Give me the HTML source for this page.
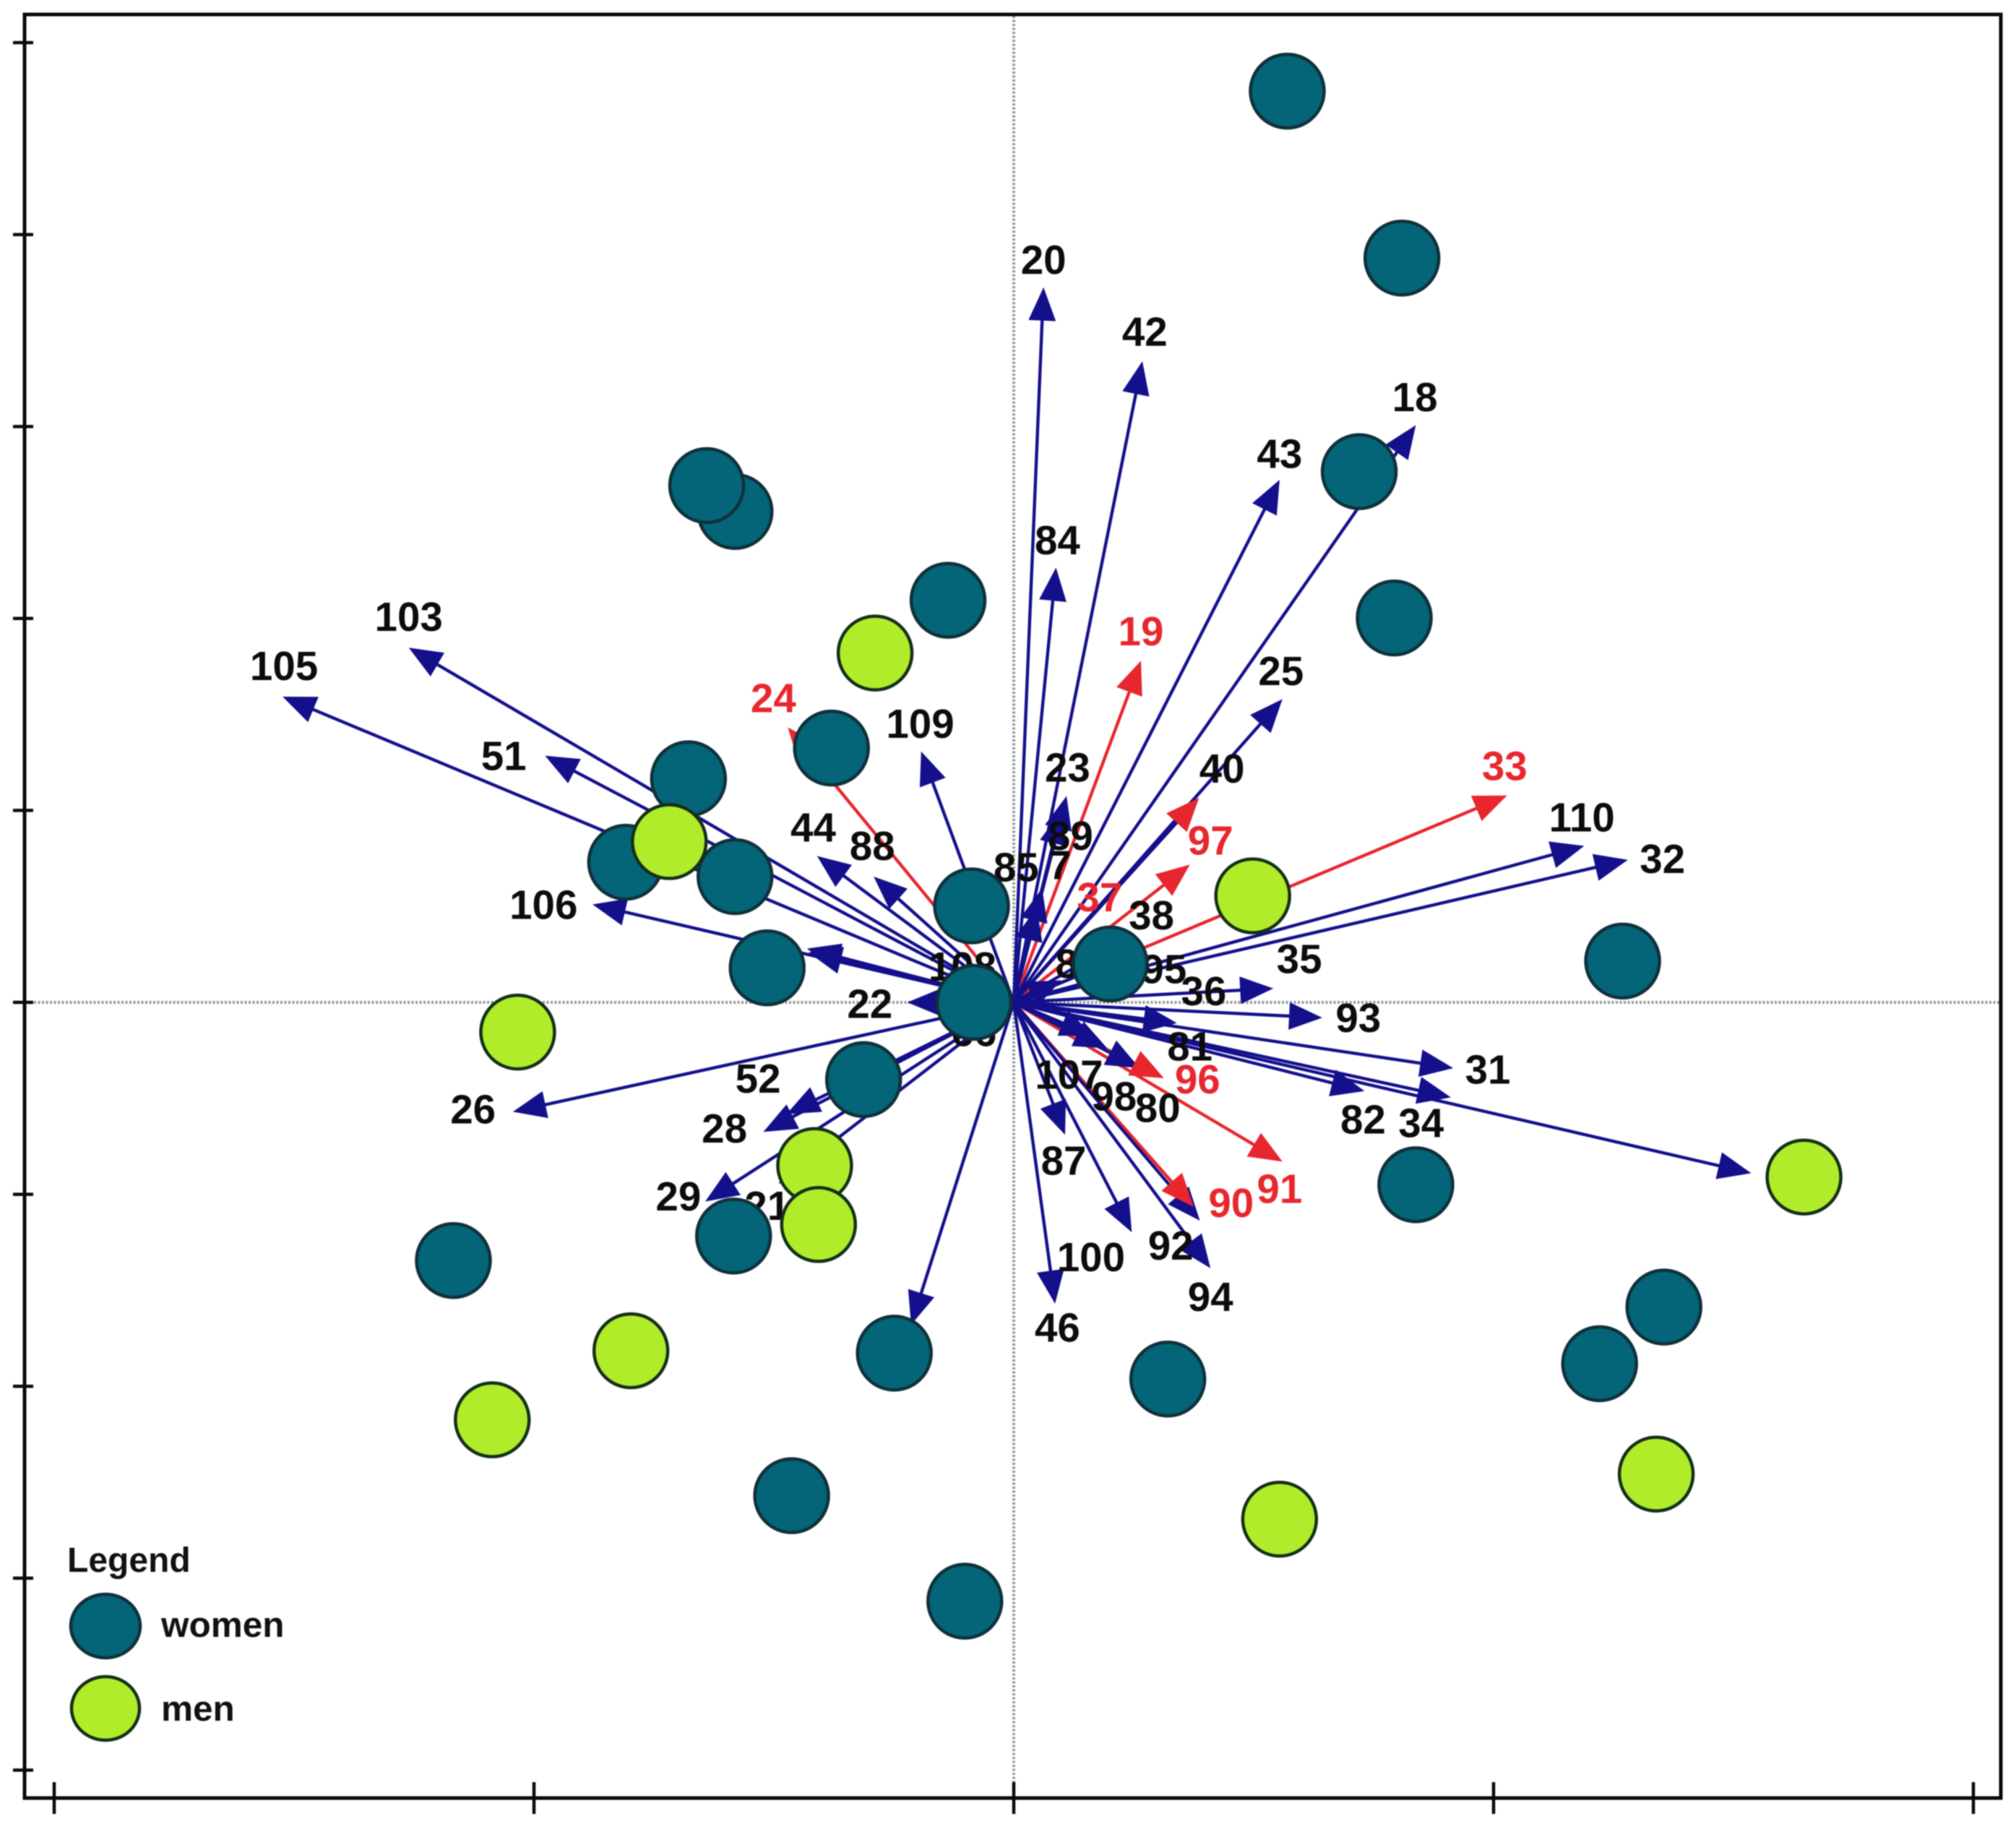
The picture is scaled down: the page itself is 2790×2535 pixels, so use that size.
<!DOCTYPE html>
<html lang="en">
<head>
<meta charset="utf-8">
<title>Biplot of women and men with vectors</title>
<style>
html,body{margin:0;padding:0;background:#fff;}
#chart{display:block;width:2790px;height:2535px;filter:blur(0.9px);}
text{font-family:"Liberation Sans",sans-serif;font-weight:bold;}
</style>
</head>
<body>
<svg id="chart" xmlns="http://www.w3.org/2000/svg" width="2790" height="2535" viewBox="0 0 2790 2535">
  <rect x="0" y="0" width="2790" height="2535" fill="#ffffff"/>
  <g id="guides"></g>
  <g id="axes"></g>
  <g id="vectors"></g>
  <g id="labels"></g>
  <g id="points"></g>
  <g id="legend">
    <text x="93" y="2175" font-size="48" fill="#111">Legend</text>
    <ellipse cx="146" cy="2250" rx="48" ry="44" fill="#046478" stroke="#10303a" stroke-width="4.5"/>
    <text x="223" y="2265" font-size="49.5" fill="#111">women</text>
    <ellipse cx="146" cy="2364" rx="47" ry="44" fill="#b0ec2a" stroke="#143018" stroke-width="4.5"/>
    <text x="223" y="2381" font-size="49.5" fill="#111">men</text>
  </g>
</svg>
<script>
const xTicks = [-2, -1, 0, 1, 2];
const yTicks = [2, 1.6, 1.2, 0.8, 0.4, 0, -0.4, -0.8, -1.2, -1.6];

const womenX = [0.570, 0.809, 0.720, 0.793, -0.581, -0.640, -0.137, -0.380, -0.678, -0.809, -0.581, -0.514, -0.088, -0.083, 0.201, 1.269, -0.313, -1.168, -0.584, 0.838, 1.355, 1.221, 0.321, -0.249, -0.463, -0.102];
const womenY = [1.899, 1.551, 1.106, 0.801, 1.023, 1.077, 0.838, 0.530, 0.466, 0.292, 0.262, 0.072, 0.201, 0, 0.080, 0.086, -0.161, -0.538, -0.487, -0.380, -0.635, -0.753, -0.785, -0.731, -1.028, -1.248];

const menX = [-0.289, -0.718, 0.498, -1.034, -0.415, -0.407, -0.798, -1.087, 1.647, 1.339, 0.554];
const menY = [0.728, 0.335, 0.222, -0.062, -0.340, -0.463, -0.726, -0.870, -0.364, -0.983, -1.077];

const blueIds = ["20","42","43","18","84","25","23","40","89","85","7","109","110","32","35","95","38","86","36","93","81","31","34","82","","80","98","107","87","100","92","94","46","","26","22","52","28","29","21","106","105","103","51","44","88","108","66"];
const blueTipX = [0.062,0.268,0.554,0.838,0.088,0.560,0.110,0.386,0.099,0.059,0.048,-0.193,1.189,1.280,0.246,0.220,0.206,0.099,0.541,0.643,0.340,0.916,0.911,0.731,1.537,0.262,0.195,0.166,0.107,0.246,0.388,0.410,0.086,-0.214,-1.044,-0.222,-0.474,-0.522,-0.643,-0.490,-0.878,-1.524,-1.261,-0.977,-0.410,-0.292,-0.431,-0.428];
const blueTipY = [1.490,1.336,1.089,1.203,0.906,0.632,0.430,0.426,0.399,0.238,0.198,0.523,0.326,0.297,0.059,0.091,0.118,0.046,0.029,-0.032,-0.043,-0.137,-0.198,-0.185,-0.356,-0.137,-0.096,-0.070,-0.276,-0.479,-0.455,-0.554,-0.628,-0.672,-0.228,0,-0.233,-0.270,-0.415,-0.378,0.204,0.637,0.739,0.514,0.305,0.262,0.112,0.104];
const blueLabelX = [0.062,0.273,0.554,0.836,0.091,0.557,0.112,0.434,0.118,0.005,0.096,-0.195,1.184,1.352,0.595,0.313,0.287,0.134,0.396,0.718,0.367,0.988,0.849,0.728,0,0.300,0.209,0.115,0.104,0.161,0.327,0.410,0.091,0,-1.127,-0.300,-0.533,-0.603,-0.699,-0.514,-0.980,-1.521,-1.261,-1.063,-0.418,-0.295,-0.107,-0.083];
const blueLabelY = [1.545,1.395,1.141,1.259,0.961,0.688,0.487,0.485,0.345,0.279,0.284,0.578,0.383,0.297,0.088,0.067,0.179,0.078,0.021,-0.035,-0.094,-0.142,-0.254,-0.246,0,-0.222,-0.198,-0.153,-0.332,-0.533,-0.509,-0.616,-0.680,0,-0.225,-0.005,-0.161,-0.265,-0.407,-0.426,0.201,0.699,0.801,0.511,0.362,0.324,0.072,-0.064];

const redIds = ["19","24","33","37","97","96","91","90"];
const redTipX = [0.265,-0.471,1.028,0.386,0.367,0.313,0.560,0.375];
const redTipY = [0.712,0.573,0.431,0.426,0.287,-0.158,-0.332,-0.426];
const redLabelX = [0.265,-0.501,1.023,0.179,0.410,0.383,0.554,0.453];
const redLabelY = [0.771,0.632,0.490,0.217,0.335,-0.163,-0.391,-0.420];

const NS = "http://www.w3.org/2000/svg";
const ORIGIN_X = 1403;
const ORIGIN_Y = 1387;
const UNIT = 664;
const BLUE = "#14108c";
const RED = "#e8262e";

function xScale(v) { return ORIGIN_X + UNIT * v; }
function yScale(v) { return ORIGIN_Y - UNIT * v; }

function make(tag, parent, attrs) {
  const el = document.createElementNS(NS, tag);
  for (const k in attrs) el.setAttribute(k, attrs[k]);
  parent.appendChild(el);
  return el;
}

const guides = document.getElementById("guides");
const axes = document.getElementById("axes");
const vectors = document.getElementById("vectors");
const labels = document.getElementById("labels");
const points = document.getElementById("points");

let guideV = make("line", guides, {x1: xScale(0), y1: 22, x2: xScale(0), y2: 2486, stroke: "#8f9a9a", "stroke-width": 4, "stroke-dasharray": "3 2.5"});


let guideH = make("line", guides, {x1: 36, y1: yScale(0), x2: 2767, y2: yScale(0), stroke: "#8f9a9a", "stroke-width": 4, "stroke-dasharray": "3 2.5"});



let frame = make("rect", axes, {x: 34, y: 20, width: 2735, height: 2468, fill: "none", stroke: "#0a0a0a", "stroke-width": 5});



xTicks.forEach(function (t) {
  const tick = make("line", axes, {x1: xScale(t), y1: 2466, x2: xScale(t), y2: 2510, stroke: "#0a0a0a", "stroke-width": 4.5});
  
  
});
yTicks.forEach(function (t) {
  const tick = make("line", axes, {x1: 18, y1: yScale(t), x2: 46, y2: yScale(t), stroke: "#0a0a0a", "stroke-width": 4.5});
  
  
});

function drawShaft(id, tx, ty, color) {
  const x = xScale(tx), y = yScale(ty);
  const dx = x - xScale(0), dy = y - yScale(0);
  const len = Math.hypot(dx, dy) || 1;
  const back = Math.min(30, len);
  const shaft = make("line", vectors, {x1: xScale(0), y1: yScale(0), x2: x - dx / len * back, y2: y - dy / len * back, stroke: color, "stroke-width": 4.4});
  
  
}

function drawHead(id, tx, ty, color) {
  const x = xScale(tx), y = yScale(ty);
  const dx = x - xScale(0), dy = y - yScale(0);
  const len = Math.hypot(dx, dy) || 1;
  const ux = dx / len, uy = dy / len;
  const L = 46, W = 19;
  const pts = [
    [x, y],
    [x - ux * L - uy * W, y - uy * L + ux * W],
    [x - ux * L + uy * W, y - uy * L - ux * W]
  ].map(function (p) { return p[0].toFixed(1) + "," + p[1].toFixed(1); }).join(" ");
  const head = make("polygon", vectors, {points: pts, fill: color});
  
  
}

function drawLabel(id, lx, ly, color) {
  if (!id) return;
  const t = make("text", labels, {x: xScale(lx), y: yScale(ly) + 18, "text-anchor": "middle", "font-size": 56.5, fill: color});
  t.textContent = id;
  
  
}

redIds.forEach(function (id, i) { drawShaft(id, redTipX[i], redTipY[i], RED); });
blueIds.forEach(function (id, i) { drawShaft(id, blueTipX[i], blueTipY[i], BLUE); });
blueIds.forEach(function (id, i) { drawHead(id, blueTipX[i], blueTipY[i], BLUE); });
redIds.forEach(function (id, i) { drawHead(id, redTipX[i], redTipY[i], RED); });
blueIds.forEach(function (id, i) { drawLabel(id, blueLabelX[i], blueLabelY[i], "#0c0c0c"); });
redIds.forEach(function (id, i) { drawLabel(id, redLabelX[i], redLabelY[i], "#e8262e"); });

womenX.forEach(function (v, i) {
  const c = make("circle", points, {cx: xScale(v), cy: yScale(womenY[i]), r: 51, fill: "#046478", stroke: "#10303a", "stroke-width": 4.5});
  
  
});
menX.forEach(function (v, i) {
  const c = make("circle", points, {cx: xScale(v), cy: yScale(menY[i]), r: 51, fill: "#b0ec2a", stroke: "#143018", "stroke-width": 4.5});
  
  
});
</script>
</body>
</html>
